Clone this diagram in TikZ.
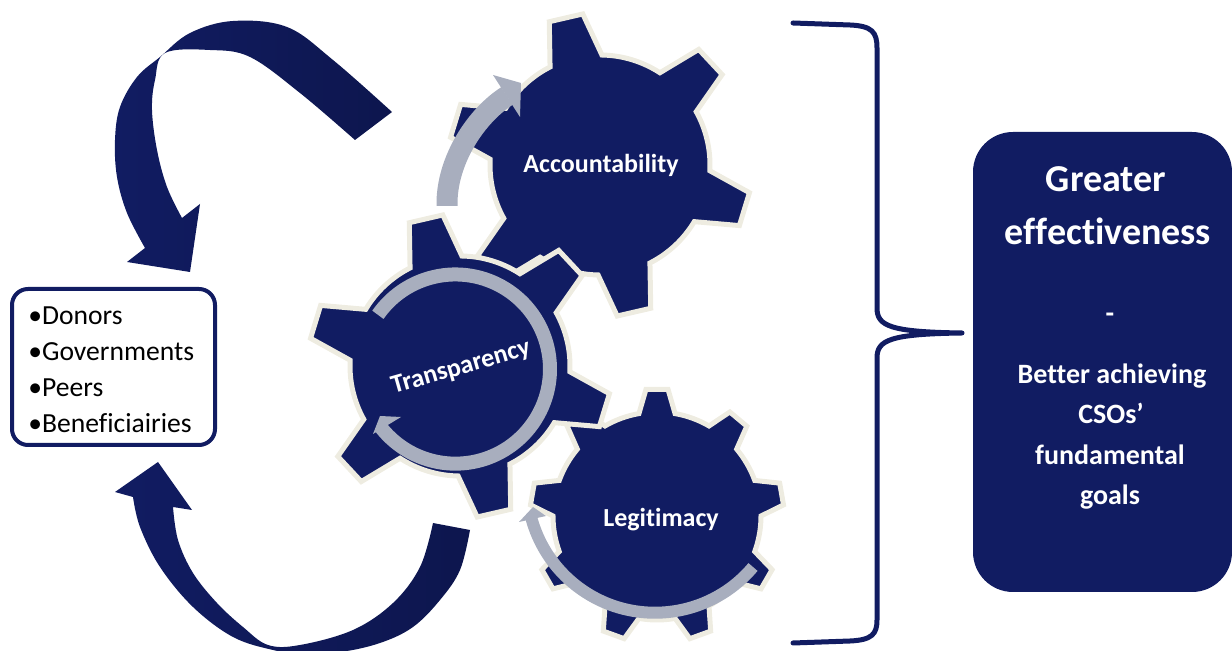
\documentclass[tikz,border=0pt]{standalone}
\usepackage{fontspec}
\setmainfont{Carlito}[Ligatures=CommonOff]
\definecolor{navy}{RGB}{17,28,98}
\definecolor{navydeep}{RGB}{13,22,78}
\definecolor{cream}{RGB}{238,236,225}
\definecolor{steel}{RGB}{168,174,190}

% gear outline: #1 centre, #2 teeth, #3 first tooth angle, #4 body radius,
% #5 tip radius, #6 half-angle at the tooth root, #7 half-angle at the tip
\newcommand\drawcog[7]{%
  \path[cogstyle, shift={#1}] (#3-#6:#4)
    \foreach \k [evaluate=\k as \ang using #3+(\k-1)*360/#2] in {1,...,#2}
      { -- (\ang-#7:#5) -- (\ang+#7:#5) -- (\ang+#6:#4)
        arc[start angle=\ang+#6, end angle=\ang+360/#2-#6, radius=#4] }
    -- cycle;}

\begin{document}
\begin{tikzpicture}[x=0.5pt,y=-0.5pt,
  cogstyle/.style={fill=navy, draw=cream, line width=2.5pt},
  cogtext/.style={text=white, inner sep=0, font=\bfseries\fontsize{13}{15}\selectfont},
  listtext/.style={text=black, inner sep=0, anchor=base west, font=\fontsize{13.8}{16}\selectfont},
  bigtext/.style={text=white, inner sep=0, anchor=base, font=\bfseries\fontsize{19}{22}\selectfont},
  goaltext/.style={text=white, inner sep=0, anchor=base, font=\bfseries\fontsize{14}{17}\selectfont},
  swoosh/.style={left color=navy, right color=navydeep},
  spin/.style={draw=steel},
  spinhead/.style={fill=steel}]

\useasboundingbox (0,0) rectangle (1232,651);

% large curved arrows around the stakeholder list
\shade[swoosh] (355,140) -- plot[smooth, tension=0.6] coordinates {(392,112) (333,60) (287,27) (233,21) (190,33) (160,57) (137,77) (120,107) (115,140) (117,177) (127,213) (145,248)}
  -- (127,262) -- (190,272) -- (200,204)
  -- plot[smooth, tension=0.6] coordinates {(182,218) (167,187) (157,150) (152,110) (155,80) (165,53) (210,50) (250,57) (300,93) (355,140)} -- cycle;

\shade[swoosh] (433,523) -- plot[smooth, tension=0.6] coordinates {(470,530) (460,570) (440,600) (413,627) (380,643) (340,652) (300,653) (273,650) (233,637) (193,607) (160,567) (140,527) (133,497)}
  -- (115,492) -- (158,462) -- (192,510)
  -- plot[smooth, tension=0.6] coordinates {(173,507) (178,540) (193,573) (217,603) (243,627) (268,645) (300,645) (353,630) (393,603) (420,567) (433,523)} -- cycle;

% gears
\drawcog{(657,516)}{9}{-10}{104}{127}{10}{5}
\drawcog{(600,165)}{6}{-103}{110}{152}{14}{6.5}
\drawcog{(460,366)}{6}{-103}{110}{152}{14}{6.5}

% grey rotation arrows
\draw[spin, line width=6pt] (753,567) arc[start angle=40, end angle=165, radius=128];
\fill[spinhead] (519,522) -- (533,507) -- (546,516) -- cycle;

\draw[spin, line width=10.5pt] (447,206) .. controls (446,160) and (477,115) .. (507,96);
\fill[spinhead] (493,75) -- (521,83) -- (520,117) -- cycle;

\draw[spin, line width=7pt] (377.9,314.8) arc[start angle=-145, end angle=142, radius=94.6];
\fill[spinhead] (373,434) -- (380,416) -- (401,417) -- cycle;

% gear labels
\node[cogtext, anchor=base] (acc) at (601,173) {Accountability};
\node[cogtext, anchor=center, rotate=16] (tra) at (461,368) {Transparency};
\node[cogtext, anchor=base] (leg) at (661,527) {Legitimacy};

% stakeholder list
\node[draw=navy, line width=2pt, rounded corners=8pt, minimum width=101.5pt, minimum height=78pt, inner sep=0] (stake) at (113.5,367) {};
\node[listtext] (l1) at (28,325) {•Donors};
\node[listtext] (l2) at (28,361) {•Governments};
\node[listtext] (l3) at (28,397) {•Peers};
\node[listtext] (l4) at (28,433) {•Beneficiairies};

% brace
\coordinate (bracetip) at (962,333);
\draw[navy, line width=2.5pt, line cap=round, line join=round]
  (793,23) -- (850,25) .. controls (872,26) and (877,32) .. (877,48) -- (877,308)
  .. controls (877,326) and (890,332) .. (bracetip)
  .. controls (890,334) and (877,340) .. (877,358) -- (877,620)
  .. controls (877,634) and (872,640) .. (850,641) -- (793,643);

% outcome box
\node[fill=navy, rounded corners=20pt, minimum width=129.5pt, minimum height=230pt, inner sep=0] (goal) at (1102.5,362) {};
\node[bigtext] (g1) at (1106,192) {Greater};
\node[bigtext] (g2) at (1108,245) {effectiveness};
\node[goaltext] (g3) at (1110,323) {-};
\node[goaltext] (g4) at (1112,384) {Better achieving};
\node[goaltext] (g5) at (1111,424) {CSOs’};
\node[goaltext] (g6) at (1110,465) {fundamental};
\node[goaltext] (g7) at (1110,505) {goals};
\end{tikzpicture}
\end{document}
